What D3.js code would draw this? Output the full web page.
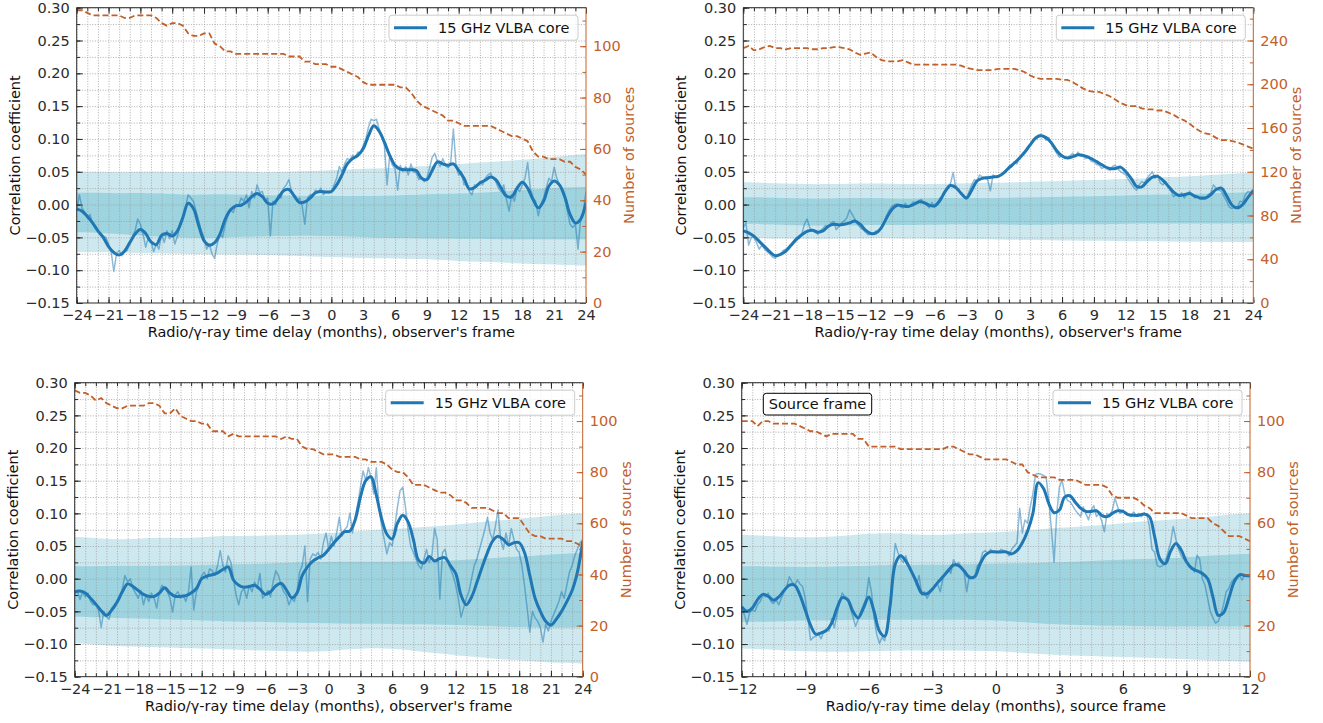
<!DOCTYPE html>
<html>
<head>
<meta charset="utf-8">
<script src="https://cdn.jsdelivr.net/npm/d3@7"></script>
<style>
  body { margin: 0; background: #fff; }
  svg text { font-family: "DejaVu Sans", sans-serif; }
</style>
</head>
<body>
<svg id="fig" width="1323" height="723"></svg>
<script>
// ---------- tick labels ----------
const corrTicks = [-0.15, -0.10, -0.05, 0, 0.05, 0.10, 0.15, 0.20, 0.25, 0.30];
const obsLagTicks = [-24, -21, -18, -15, -12, -9, -6, -3, 0, 3, 6, 9, 12, 15, 18, 21, 24];
const srcLagTicks = [-12, -9, -6, -3, 0, 3, 6, 9, 12];
const nTicks100 = [0, 20, 40, 60, 80, 100];
const nTicks240 = [0, 40, 80, 120, 160, 200, 240];

// ---------- top-left: observer's frame, sample 1 ----------
// smoothed correlation, lag step 0.5 month from -24 to 24
const tlSmooth = [
  -0.007,-0.010,-0.018,-0.028,-0.040,-0.050,-0.064,-0.073,-0.077,-0.071,-0.058,-0.045,
  -0.038,-0.044,-0.057,-0.061,-0.047,-0.044,-0.048,-0.040,-0.020,0.002,-0.006,-0.032,
  -0.055,-0.062,-0.058,-0.045,-0.022,-0.008,-0.002,-0.001,0.004,0.012,0.017,0.012,
  0.002,0.001,0.010,0.021,0.023,0.013,0.003,0.004,0.010,0.018,0.020,0.019,
  0.020,0.030,0.045,0.062,0.070,0.075,0.085,0.105,0.120,0.112,0.095,0.075,
  0.060,0.054,0.053,0.053,0.052,0.040,0.038,0.052,0.065,0.062,0.060,0.062,
  0.052,0.040,0.024,0.026,0.033,0.037,0.042,0.038,0.025,0.013,0.012,0.025,
  0.034,0.025,0.008,-0.005,0.005,0.028,0.036,0.030,0.012,-0.015,-0.028,-0.022,
  0.003];
// raw correlation, lag step 0.25 month
const tlRaw = [
  -0.010,0.015,-0.005,-0.012, -0.020,-0.015,-0.030,-0.035, -0.040,-0.045,-0.048,-0.050, -0.060,-0.072,-0.102,-0.075, -0.070,-0.078,-0.072,-0.070, -0.060,-0.050,-0.040,-0.022,
  -0.030,-0.045,-0.065,-0.050, -0.055,-0.072,-0.060,-0.068, -0.045,-0.058,-0.040,-0.052, -0.040,-0.060,-0.048,-0.030, -0.018,-0.005,0.015,0.010, 0.005,-0.010,-0.025,-0.040,
  -0.050,-0.068,-0.060,-0.075, -0.082,-0.060,-0.045,-0.050, -0.030,-0.018,-0.008,-0.012, 0.000,-0.002,0.010,0.005, 0.015,-0.005,0.020,0.010, 0.030,0.018,0.020,0.005,
  0.010,-0.048,0.005,0.000, 0.015,0.010,0.025,0.030, 0.038,0.020,0.015,0.005, 0.010,-0.002,-0.030,0.010, 0.015,0.012,0.022,0.018, 0.025,0.015,0.020,0.018,
  0.020,0.030,0.040,0.058, 0.050,0.062,0.070,0.068, 0.075,0.072,0.080,0.078, 0.090,0.100,0.118,0.130, 0.128,0.130,0.115,0.105, 0.090,0.030,0.075,0.060,
  0.055,0.022,0.060,0.050, 0.058,0.045,0.062,0.050, 0.048,0.038,0.042,0.035, 0.040,0.055,0.072,0.078, 0.065,0.058,0.070,0.060, 0.056,0.065,0.115,0.060,
  0.045,0.050,0.030,0.032, 0.020,0.015,0.030,0.028, 0.035,0.030,0.040,0.045, 0.048,0.040,0.035,0.025, 0.020,0.030,0.008,-0.010, 0.015,0.005,0.025,0.020,
  0.030,0.040,0.064,0.025, 0.010,0.005,-0.017,0.000, 0.010,0.025,0.040,0.035, 0.057,0.040,0.030,0.020, 0.010,-0.010,-0.030,-0.035, -0.030,-0.068,-0.020,-0.010,
  0.020];
// number of sources, lag step 0.5 month
const tlSources = [
  114,114,113,112,112,112,112,112,112,111,111,112,
  112,112,112,111,109,108,109,109,108,105,104,104,
  105,105,101,100,98,98,97,97,97,97,97,97,
  97,97,97,97,96,96,96,94,94,93,93,93,
  92,92,91,90,89,88,86,85,85,85,85,85,
  85,84,84,82,79,77,76,75,74,73,71,71,
  70,69,69,69,69,69,69,68,67,66,65,65,
  64,63,59,57,57,56,56,56,55,55,53,52,
  50];
// significance bands, lag step 2 months
const tlOuterHi = [0.050,0.050,0.049,0.050,0.050,0.049,0.050,0.051,0.050,0.049,0.050,0.051,0.052,0.054,0.055,0.056,0.058,0.060,0.062,0.064,0.066,0.068,0.071,0.074,0.077];
const tlInnerHi = [0.018,0.018,0.017,0.018,0.017,0.015,0.015,0.016,0.015,0.014,0.014,0.013,0.013,0.013,0.013,0.014,0.015,0.016,0.017,0.018,0.020,0.022,0.024,0.026,0.027];
const tlInnerLo = [-0.042,-0.043,-0.045,-0.047,-0.049,-0.050,-0.051,-0.050,-0.049,-0.048,-0.048,-0.047,-0.048,-0.049,-0.050,-0.051,-0.051,-0.052,-0.052,-0.052,-0.053,-0.053,-0.053,-0.053,-0.053];
const tlOuterLo = [-0.072,-0.073,-0.073,-0.074,-0.074,-0.075,-0.076,-0.076,-0.076,-0.077,-0.078,-0.079,-0.080,-0.081,-0.082,-0.082,-0.083,-0.084,-0.086,-0.087,-0.088,-0.090,-0.091,-0.092,-0.093];

// ---------- top-right: observer's frame, sample 2 ----------
const trSmooth = [
  -0.040,-0.043,-0.048,-0.056,-0.064,-0.072,-0.078,-0.076,-0.071,-0.062,-0.053,-0.046,
  -0.041,-0.039,-0.042,-0.040,-0.033,-0.030,-0.031,-0.030,-0.028,-0.025,-0.030,-0.039,
  -0.044,-0.043,-0.035,-0.020,-0.007,-0.001,-0.002,-0.003,0.000,0.004,0.003,-0.001,
  -0.002,0.006,0.020,0.029,0.026,0.017,0.010,0.022,0.036,0.040,0.041,0.042,
  0.043,0.048,0.056,0.063,0.071,0.080,0.091,0.101,0.105,0.102,0.094,0.082,
  0.074,0.071,0.073,0.076,0.075,0.072,0.068,0.063,0.058,0.055,0.055,0.057,
  0.050,0.040,0.028,0.027,0.035,0.042,0.043,0.037,0.028,0.019,0.014,0.015,
  0.017,0.013,0.010,0.010,0.015,0.023,0.025,0.013,-0.001,-0.005,0.000,0.011,
  0.021];
const trRaw = [
  -0.035,-0.028,-0.062,-0.050, -0.050,-0.058,-0.068,-0.062, -0.068,-0.072,-0.075,-0.080, -0.082,-0.077,-0.076,-0.070, -0.068,-0.065,-0.060,-0.055, -0.050,-0.052,-0.045,-0.030,
  -0.022,-0.035,-0.040,-0.042, -0.045,-0.040,-0.036,-0.032, -0.035,-0.028,-0.026,-0.038, -0.033,-0.028,-0.025,-0.020, -0.008,-0.015,-0.022,-0.030, -0.035,-0.038,-0.042,-0.046,
  -0.045,-0.044,-0.040,-0.042, -0.036,-0.028,-0.016,-0.008, -0.002,0.000,0.001,-0.003, -0.005,0.002,-0.004,-0.001, 0.004,0.001,0.006,0.008, 0.002,0.000,-0.005,0.003,
  -0.004,0.000,0.010,0.012, 0.020,0.028,0.032,0.049, 0.025,0.022,0.018,0.012, 0.008,0.020,0.030,0.038, 0.036,0.045,0.042,0.040, 0.038,0.021,0.045,0.042,
  0.044,0.046,0.050,0.053, 0.058,0.057,0.065,0.062, 0.072,0.075,0.082,0.088, 0.092,0.097,0.103,0.106, 0.107,0.104,0.098,0.102, 0.092,0.085,0.078,0.072,
  0.075,0.070,0.072,0.074, 0.078,0.073,0.080,0.074, 0.073,0.070,0.072,0.066, 0.065,0.061,0.060,0.055, 0.057,0.054,0.052,0.058, 0.060,0.055,0.050,0.048,
  0.045,0.038,0.032,0.026, 0.022,0.030,0.035,0.033, 0.040,0.045,0.050,0.040, 0.045,0.033,0.030,0.035, 0.027,0.020,0.012,0.015, 0.012,0.018,0.010,0.016,
  0.020,0.015,0.010,0.012, 0.008,0.012,0.010,0.015, 0.018,0.030,0.025,0.022, 0.020,0.012,0.005,-0.004, -0.006,-0.003,-0.004,0.005, 0.004,0.015,0.020,0.018,
  0.024];
const trSources = [
  233,235,231,232,234,235,233,233,232,233,233,233,
  233,232,232,233,233,234,234,233,232,229,227,228,
  229,225,222,221,221,221,222,220,218,218,218,218,
  218,218,218,218,218,217,215,214,213,213,213,213,
  214,214,214,214,213,211,208,206,205,205,205,205,
  204,204,202,199,196,194,193,193,191,189,186,183,
  181,180,180,178,177,177,176,176,174,172,169,167,
  164,160,157,155,154,151,149,149,148,147,145,143,
  141];
const trOuterHi = [0.034,0.033,0.032,0.031,0.031,0.032,0.032,0.032,0.031,0.031,0.032,0.033,0.033,0.034,0.035,0.036,0.037,0.038,0.039,0.040,0.042,0.043,0.045,0.047,0.049];
const trInnerHi = [0.011,0.011,0.010,0.009,0.009,0.010,0.010,0.009,0.009,0.010,0.010,0.010,0.010,0.011,0.011,0.012,0.012,0.013,0.014,0.015,0.015,0.016,0.017,0.018,0.019];
const trInnerLo = [-0.029,-0.030,-0.031,-0.032,-0.032,-0.032,-0.031,-0.031,-0.031,-0.031,-0.030,-0.030,-0.030,-0.031,-0.031,-0.030,-0.030,-0.030,-0.029,-0.029,-0.029,-0.029,-0.029,-0.029,-0.029];
const trOuterLo = [-0.051,-0.051,-0.052,-0.052,-0.052,-0.052,-0.051,-0.051,-0.052,-0.052,-0.052,-0.053,-0.053,-0.054,-0.054,-0.055,-0.055,-0.055,-0.056,-0.056,-0.056,-0.057,-0.057,-0.057,-0.057];

// ---------- bottom-left: observer's frame, sample 3 ----------
const blSmooth = [
  -0.020,-0.019,-0.022,-0.030,-0.039,-0.049,-0.056,-0.048,-0.036,-0.020,-0.008,-0.012,
  -0.018,-0.024,-0.027,-0.027,-0.022,-0.014,-0.022,-0.027,-0.027,-0.026,-0.022,-0.015,
  0.000,0.004,0.006,0.009,0.014,0.018,-0.002,-0.010,-0.013,-0.012,-0.010,-0.016,
  -0.024,-0.020,-0.011,-0.007,-0.017,-0.029,-0.022,0.005,0.018,0.027,0.032,0.036,
  0.045,0.055,0.064,0.072,0.073,0.090,0.125,0.150,0.156,0.128,0.092,0.068,
  0.061,0.085,0.097,0.087,0.060,0.028,0.024,0.034,0.027,0.031,0.032,0.020,
  0.008,-0.025,-0.040,-0.028,-0.006,0.018,0.040,0.058,0.065,0.060,0.052,0.055,
  0.055,0.040,0.005,-0.030,-0.050,-0.065,-0.071,-0.062,-0.050,-0.035,-0.018,0.010,
  0.057];
const blRaw = [
  -0.025,-0.018,-0.032,-0.020, -0.028,-0.022,-0.035,-0.040, -0.038,-0.048,-0.075,-0.050, -0.058,-0.062,-0.045,-0.040, -0.035,-0.030,-0.015,0.005, -0.005,0.000,-0.015,-0.022,
  -0.030,-0.018,-0.040,-0.025, -0.035,-0.022,-0.030,-0.045, -0.020,-0.010,-0.015,-0.020, -0.030,-0.051,-0.025,-0.020, -0.030,-0.025,-0.035,-0.020, 0.018,-0.048,-0.020,-0.010,
  0.005,0.010,0.000,0.015, 0.012,0.005,0.020,0.043, 0.020,0.010,0.035,0.025, 0.000,-0.025,-0.040,-0.020, -0.015,-0.030,-0.010,-0.020, -0.005,-0.015,0.008,-0.030,
  -0.025,-0.018,-0.028,-0.005, 0.012,0.005,-0.010,-0.020, -0.025,-0.040,-0.030,-0.035, -0.020,0.010,0.020,0.050, -0.035,0.030,0.038,0.035, 0.040,0.030,0.055,0.070,
  0.045,0.065,0.050,0.070, 0.094,0.065,0.075,0.080, 0.100,0.070,0.095,0.115, 0.140,0.165,0.150,0.170, 0.155,0.130,0.170,0.110, 0.080,0.060,0.038,0.055,
  0.050,0.080,0.110,0.135, 0.140,0.110,0.075,0.050, 0.040,0.030,0.020,0.015, 0.030,0.045,0.025,0.035, 0.077,0.060,-0.031,0.040, 0.045,0.025,0.015,0.005,
  -0.010,-0.030,-0.059,-0.045, -0.030,-0.020,0.000,0.020, 0.030,0.045,0.060,0.075, 0.094,0.070,0.060,0.080, 0.105,0.060,0.045,0.070, 0.050,0.077,0.060,0.045,
  0.040,0.020,-0.010,-0.045, -0.082,-0.050,-0.060,-0.065, -0.075,-0.097,-0.070,-0.080, -0.065,-0.055,-0.045,-0.035, -0.020,-0.030,-0.010,0.010, 0.020,0.035,0.045,0.055,
  0.060];
const blSources = [
  112,111,111,110,108,109,107,106,105,105,106,106,
  106,106,107,107,106,103,103,105,102,101,100,100,
  99,99,96,96,96,94,95,94,94,94,94,94,
  94,94,94,93,94,93,93,90,89,89,88,87,
  87,87,86,86,86,86,85,85,84,84,84,83,
  81,80,80,78,75,75,75,74,73,72,72,71,
  69,69,68,66,66,66,66,65,64,64,62,62,
  62,59,56,55,55,54,54,54,54,53,53,52,
  51];
const blOuterHi = [0.064,0.062,0.060,0.061,0.063,0.062,0.063,0.066,0.065,0.066,0.067,0.068,0.070,0.072,0.074,0.076,0.078,0.080,0.083,0.086,0.089,0.092,0.095,0.098,0.100];
const blInnerHi = [0.019,0.019,0.020,0.020,0.020,0.020,0.021,0.022,0.022,0.023,0.024,0.025,0.026,0.026,0.026,0.026,0.026,0.027,0.028,0.030,0.032,0.034,0.036,0.038,0.039];
const blInnerLo = [-0.058,-0.059,-0.060,-0.061,-0.062,-0.063,-0.064,-0.065,-0.066,-0.066,-0.067,-0.068,-0.068,-0.069,-0.069,-0.069,-0.070,-0.070,-0.071,-0.072,-0.073,-0.074,-0.075,-0.075,-0.074];
const blOuterLo = [-0.099,-0.101,-0.103,-0.104,-0.105,-0.106,-0.107,-0.108,-0.109,-0.110,-0.111,-0.112,-0.111,-0.108,-0.106,-0.107,-0.110,-0.114,-0.117,-0.120,-0.123,-0.125,-0.127,-0.129,-0.130];

// ---------- bottom-right: source frame ----------
// smoothed correlation, lag step 0.25 month from -12 to 12
const brSmooth = [
  -0.043,-0.050,-0.045,-0.032,-0.024,-0.027,-0.033,-0.028,-0.018,-0.010,-0.010,-0.025,
  -0.048,-0.071,-0.085,-0.083,-0.079,-0.068,-0.045,-0.029,-0.032,-0.050,-0.060,-0.045,
  -0.028,-0.050,-0.080,-0.088,-0.043,0.022,0.035,0.027,0.012,-0.005,-0.022,-0.023,
  -0.016,-0.006,0.003,0.012,0.021,0.020,0.012,0.002,0.003,0.022,0.036,0.041,
  0.041,0.041,0.041,0.038,0.043,0.055,0.073,0.100,0.147,0.138,0.115,0.101,
  0.105,0.125,0.127,0.117,0.108,0.103,0.103,0.104,0.097,0.095,0.100,0.104,
  0.103,0.098,0.097,0.097,0.099,0.095,0.064,0.030,0.023,0.042,0.054,0.044,
  0.026,0.016,0.012,0.008,0.000,-0.028,-0.056,-0.052,-0.030,-0.005,0.006,0.005,
  0.004];
// raw correlation, lag step 0.125 month
const brRaw = [
  -0.045,-0.055,-0.070,-0.052,-0.048,-0.050,-0.040,-0.035, -0.025,-0.028,-0.022,-0.035,-0.038,-0.032,-0.040,-0.030, -0.020,-0.012,0.003,-0.005,-0.010,-0.002,-0.008,-0.012,
  -0.030,-0.060,-0.094,-0.090,-0.088,-0.085,-0.092,-0.080, -0.078,-0.080,-0.061,-0.075,-0.055,-0.035,-0.022,-0.028, -0.030,-0.045,-0.058,-0.073,-0.062,-0.050,-0.040,-0.030,
  0.002,-0.020,-0.060,-0.085,-0.099,-0.090,-0.095,-0.070, -0.040,0.010,0.054,0.040,0.030,0.025,0.035,0.020, 0.010,0.005,-0.010,0.005,-0.025,-0.020,-0.030,-0.022,
  -0.018,-0.010,-0.008,-0.020,0.000,0.010,0.015,0.008, 0.029,0.022,0.025,0.015,0.010,-0.020,0.005,0.000, 0.002,0.020,0.025,0.040,0.043,0.038,0.045,0.040,
  0.042,0.040,0.045,0.043,0.041,0.035,0.045,0.050, 0.055,0.108,0.070,0.090,0.085,0.110,0.130,0.160, 0.161,0.160,0.158,0.155,0.120,0.075,0.025,0.100,
  0.140,0.151,0.130,0.120,0.118,0.112,0.105,0.100, 0.095,0.110,0.100,0.090,0.105,0.112,0.095,0.100, 0.088,0.072,0.100,0.095,0.105,0.123,0.110,0.100,
  0.105,0.100,0.098,0.095,0.102,0.097,0.100,0.095, 0.100,0.098,0.080,0.045,0.040,0.020,0.018,0.020, 0.025,0.040,0.055,0.080,0.060,0.045,0.035,0.030,
  0.025,0.020,0.018,0.010,0.036,0.030,0.000,-0.010, -0.030,-0.050,-0.060,-0.068,-0.065,-0.055,-0.040,-0.020, -0.015,-0.005,0.000,0.003,0.005,-0.002,0.005,0.004,
  0.004];
// number of sources, lag step 0.25 month
const brSources = [
  100,100,100,98,100,100,99,99,99,99,99,98,
  97,96,96,95,94,95,95,95,95,95,93,93,
  90,90,90,90,90,90,89,89,89,89,89,89,
  89,89,89,90,90,89,88,87,87,86,85,85,
  85,85,85,84,83,83,80,79,78,78,78,78,
  77,77,77,77,76,75,75,75,75,74,71,70,
  70,70,70,69,67,66,64,64,64,64,64,64,
  63,62,62,62,62,60,59,57,55,55,55,54,
  53];
// significance bands, lag step 1 month
const brOuterHi = [0.067,0.066,0.064,0.063,0.064,0.066,0.069,0.070,0.068,0.067,0.068,0.070,0.071,0.073,0.075,0.078,0.080,0.082,0.085,0.088,0.090,0.092,0.095,0.098,0.100];
const brInnerHi = [0.019,0.019,0.018,0.018,0.018,0.019,0.020,0.021,0.021,0.021,0.022,0.022,0.023,0.023,0.024,0.025,0.026,0.028,0.029,0.030,0.031,0.033,0.035,0.037,0.038];
const brInnerLo = [-0.066,-0.066,-0.065,-0.064,-0.064,-0.063,-0.063,-0.063,-0.063,-0.063,-0.063,-0.063,-0.064,-0.066,-0.068,-0.070,-0.071,-0.072,-0.072,-0.073,-0.073,-0.073,-0.073,-0.073,-0.073];
const brOuterLo = [-0.107,-0.108,-0.110,-0.111,-0.112,-0.112,-0.111,-0.110,-0.110,-0.110,-0.110,-0.110,-0.111,-0.113,-0.115,-0.117,-0.118,-0.119,-0.120,-0.121,-0.122,-0.123,-0.125,-0.126,-0.127];

// ---------- styling ----------
const FS = 14.5;
const OUTER_BAND = '#cde9ef';
const INNER_BAND = '#9dd4df';
const CORE_BLUE = '#1f77b4';
const SRC_COLOR = '#c2602a';
const SPINE = '#2b2b2b';
const GRID = '#9c9c9c';
const obsLabel = "Radio/\u03b3-ray time delay (months), observer's frame";
const srcLabel = "Radio/\u03b3-ray time delay (months), source frame";

const panels = [
  { id: 'tl', l: 76.7, r: 586, t: 7.7, b: 303, xDomain: [-24, 24], xTicks: obsLagTicks, minorStep: 1,
    nMax: 115, nTicks: nTicks100, nMinor: 10, smooth: tlSmooth, raw: tlRaw, sources: tlSources,
    bands: [tlOuterHi, tlOuterLo, tlInnerHi, tlInnerLo], xLabel: obsLabel, frameBox: false },
  { id: 'tr', l: 743.3, r: 1253.3, t: 7.7, b: 303, xDomain: [-24, 24], xTicks: obsLagTicks, minorStep: 1,
    nMax: 270, nTicks: nTicks240, nMinor: 20, smooth: trSmooth, raw: trRaw, sources: trSources,
    bands: [trOuterHi, trOuterLo, trInnerHi, trInnerLo], xLabel: obsLabel, frameBox: false },
  { id: 'bl', l: 74.7, r: 582.7, t: 382.7, b: 676.7, xDomain: [-24, 24], xTicks: obsLagTicks, minorStep: 1,
    nMax: 115, nTicks: nTicks100, nMinor: 10, smooth: blSmooth, raw: blRaw, sources: blSources,
    bands: [blOuterHi, blOuterLo, blInnerHi, blInnerLo], xLabel: obsLabel, frameBox: false },
  { id: 'br', l: 741.7, r: 1250, t: 382.7, b: 676.7, xDomain: [-12, 12], xTicks: srcLagTicks, minorStep: 0.5,
    nMax: 115, nTicks: nTicks100, nMinor: 10, smooth: brSmooth, raw: brRaw, sources: brSources,
    bands: [brOuterHi, brOuterLo, brInnerHi, brInnerLo], xLabel: srcLabel, frameBox: true }
];

const svg = d3.select('#fig');

function styleAxis(sel, color, keepText) {
  sel.select('.domain').remove();
  sel.selectAll('line').attr('stroke', color).attr('stroke-width', 1);
  if (keepText) {
    sel.selectAll('text').attr('fill', color).attr('font-size', FS)
      .attr('font-family', '"DejaVu Sans", sans-serif');
  }
}

function drawPanel(p) {
  const W = p.r - p.l, H = p.b - p.t;
  const x = d3.scaleLinear().domain(p.xDomain).range([p.l, p.r]);
  const y = d3.scaleLinear().domain([-0.15, 0.30]).range([p.b, p.t]);
  const yN = d3.scaleLinear().domain([0, p.nMax]).range([p.b, p.t]);
  // position of the i-th sample of an evenly spaced lag series
  const lagX = arr => (d, i) => x(p.xDomain[0] + i * (p.xDomain[1] - p.xDomain[0]) / (arr.length - 1));

  const g = svg.append('g');
  g.append('clipPath').attr('id', 'clip-' + p.id)
    .append('rect').attr('x', p.l).attr('y', p.t).attr('width', W).attr('height', H);
  const body = g.append('g').attr('clip-path', `url(#clip-${p.id})`);

  // significance bands
  const [oHi, oLo, iHi, iLo] = p.bands;
  const band = (hi, lo) => d3.area().x(lagX(hi)).y0((d, i) => y(lo[i])).y1(d => y(d)).curve(d3.curveBasis)(hi);
  body.append('path').attr('d', band(oHi, oLo)).attr('fill', OUTER_BAND);
  body.append('path').attr('d', band(iHi, iLo)).attr('fill', INNER_BAND);

  // dotted grid at every minor tick
  const gridX = d3.range(p.xDomain[0], p.xDomain[1] + 1e-9, p.minorStep);
  const gridY = d3.range(0, 19).map(k => -0.15 + k * 0.025);
  body.append('g').attr('transform', `translate(0,${p.b})`)
    .call(d3.axisBottom(x).tickValues(gridX).tickSize(-H).tickFormat(''))
    .call(a => { a.select('.domain').remove(); a.selectAll('line').attr('stroke', GRID).attr('stroke-width', 0.8).attr('stroke-dasharray', '1,1.6'); });
  body.append('g').attr('transform', `translate(${p.l},0)`)
    .call(d3.axisLeft(y).tickValues(gridY).tickSize(-W).tickFormat(''))
    .call(a => { a.select('.domain').remove(); a.selectAll('line').attr('stroke', GRID).attr('stroke-width', 0.8).attr('stroke-dasharray', '1,1.6'); });

  // raw and smoothed correlation curves
  body.append('path')
    .attr('d', d3.line().x(lagX(p.raw)).y(d => y(d))(p.raw))
    .attr('fill', 'none').attr('stroke', CORE_BLUE).attr('stroke-opacity', 0.5).attr('stroke-width', 1.5)
    .attr('stroke-linejoin', 'round');
  body.append('path')
    .attr('d', d3.line().x(lagX(p.smooth)).y(d => y(d)).curve(d3.curveCatmullRom.alpha(0.5))(p.smooth))
    .attr('fill', 'none').attr('stroke', CORE_BLUE).attr('stroke-width', 3).attr('stroke-linejoin', 'round');

  // number of sources on the secondary axis
  body.append('path')
    .attr('d', d3.line().x(lagX(p.sources)).y(d => yN(d))(p.sources))
    .attr('fill', 'none').attr('stroke', SRC_COLOR).attr('stroke-width', 1.8).attr('stroke-dasharray', '6,3');

  // ticks (inward)
  const nMinorTicks = d3.range(0, p.nMax + 1e-9, p.nMinor);
  g.append('g').attr('transform', `translate(0,${p.b})`)
    .call(d3.axisBottom(x).tickValues(gridX).tickSize(-3.5).tickFormat('')).call(a => styleAxis(a, SPINE, false));
  g.append('g').attr('transform', `translate(0,${p.b})`)
    .call(d3.axisBottom(x).tickValues(p.xTicks).tickSize(-6).tickPadding(7).tickFormat(d3.format('d')))
    .call(a => styleAxis(a, SPINE, true));
  g.append('g').attr('transform', `translate(0,${p.t})`)
    .call(d3.axisTop(x).tickValues(gridX).tickSize(-3.5).tickFormat('')).call(a => styleAxis(a, SPINE, false));
  g.append('g').attr('transform', `translate(0,${p.t})`)
    .call(d3.axisTop(x).tickValues(p.xTicks).tickSize(-6).tickFormat('')).call(a => styleAxis(a, SPINE, false));
  g.append('g').attr('transform', `translate(${p.l},0)`)
    .call(d3.axisLeft(y).tickValues(gridY).tickSize(-3.5).tickFormat('')).call(a => styleAxis(a, SPINE, false));
  g.append('g').attr('transform', `translate(${p.l},0)`)
    .call(d3.axisLeft(y).tickValues(corrTicks).tickSize(-6).tickPadding(7).tickFormat(d3.format('.2f')))
    .call(a => styleAxis(a, SPINE, true));
  g.append('g').attr('transform', `translate(${p.r},0)`)
    .call(d3.axisRight(yN).tickValues(nMinorTicks).tickSize(-3.5).tickFormat('')).call(a => styleAxis(a, SRC_COLOR, false));
  g.append('g').attr('transform', `translate(${p.r},0)`)
    .call(d3.axisRight(yN).tickValues(p.nTicks).tickSize(-6).tickPadding(7).tickFormat(d3.format('d')))
    .call(a => styleAxis(a, SRC_COLOR, true));

  // spines
  g.append('path').attr('d', `M${p.r},${p.t}H${p.l}V${p.b}H${p.r}`)
    .attr('fill', 'none').attr('stroke', SPINE).attr('stroke-width', 1);
  g.append('line').attr('x1', p.r).attr('x2', p.r).attr('y1', p.t).attr('y2', p.b)
    .attr('stroke', SRC_COLOR).attr('stroke-width', 1);

  // axis titles
  const cy = (p.t + p.b) / 2;
  g.append('text').attr('transform', `translate(${p.l - 62},${cy}) rotate(-90)`)
    .attr('text-anchor', 'middle').attr('dy', '0.35em').attr('font-size', FS).attr('fill', '#111')
    .text('Correlation coefficient');
  g.append('text').attr('transform', `translate(${p.r + 43},${cy}) rotate(-90)`)
    .attr('text-anchor', 'middle').attr('dy', '0.35em').attr('font-size', FS).attr('fill', SRC_COLOR)
    .text('Number of sources');
  g.append('text').attr('x', (p.l + p.r) / 2).attr('y', p.b + 34)
    .attr('text-anchor', 'middle').attr('font-size', FS).attr('fill', '#111')
    .text(p.xLabel);

  // legend
  const lw = 189, lh = 25, lx = p.r - 8 - lw, ly = p.t + 7.5;
  g.append('rect').attr('x', lx).attr('y', ly).attr('width', lw).attr('height', lh).attr('rx', 3)
    .attr('fill', '#fff').attr('fill-opacity', 0.8).attr('stroke', '#cccccc').attr('stroke-width', 1);
  g.append('line').attr('x1', lx + 5).attr('x2', lx + 38).attr('y1', ly + lh / 2).attr('y2', ly + lh / 2)
    .attr('stroke', CORE_BLUE).attr('stroke-width', 3);
  g.append('text').attr('x', lx + 49).attr('y', ly + lh / 2).attr('dy', '0.36em')
    .attr('font-size', FS).attr('fill', '#111').text('15 GHz VLBA core');

  if (p.frameBox) {
    const bx = p.l + 21.6, by = p.t + 10.6, bw = 108.4, bh = 21.7;
    g.append('rect').attr('x', bx).attr('y', by).attr('width', bw).attr('height', bh).attr('rx', 3)
      .attr('fill', '#fff').attr('stroke', '#000').attr('stroke-width', 1);
    g.append('text').attr('x', bx + bw / 2).attr('y', by + bh / 2).attr('dy', '0.36em')
      .attr('text-anchor', 'middle').attr('font-size', FS).attr('fill', '#111').text('Source frame');
  }
}

panels.forEach(drawPanel);
</script>
</body>
</html>
